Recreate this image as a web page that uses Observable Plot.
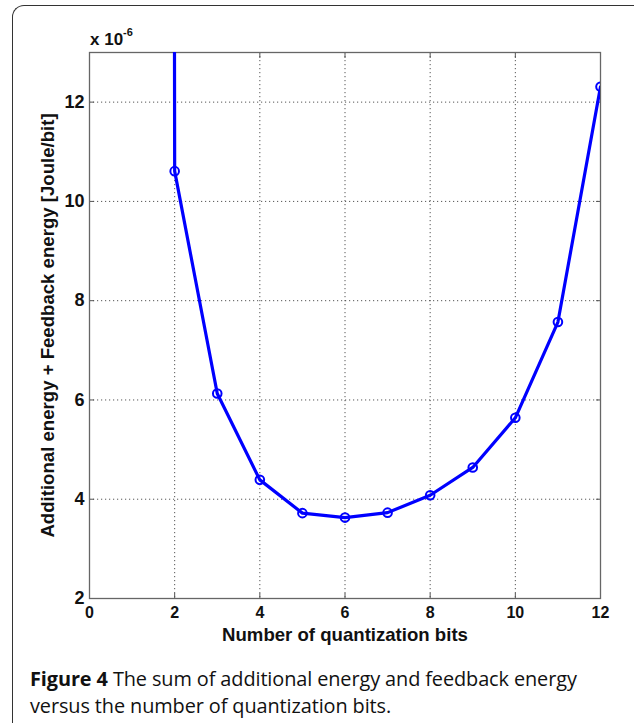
<!DOCTYPE html>
<html><head><meta charset="utf-8">
<script src="https://cdn.jsdelivr.net/npm/d3@7"></script>
<script src="https://cdn.jsdelivr.net/npm/@observablehq/plot@0.6"></script>
<style>
body{margin:0;background:#fff;}
#wrap{position:relative;width:634px;height:723px;overflow:hidden;background:#fff;}
#border{position:absolute;left:12px;top:5px;width:700px;height:800px;border-top:1.5px solid #333;border-left:1.5px solid #333;border-top-left-radius:12px;}
#chart{position:absolute;left:0;top:0;}
#chart svg text{font-family:"Liberation Sans",Arial,sans-serif;font-weight:bold;fill:#111;}
#chart g[aria-label="x-axis tick label"] text{font-size:16px;}
#chart g[aria-label="y-axis tick label"] text{font-size:18px;}
#chart g[aria-label="x-axis label"] text{font-size:18.6px;}
#chart g[aria-label="y-axis label"] text{font-size:18.6px;}
#exp{position:absolute;left:90px;top:28px;font:bold 17px "Liberation Sans",Arial,sans-serif;color:#111;}
#exp sup{font-size:11px;position:relative;top:-2px;}
#caption{position:absolute;left:30px;top:665px;font:19.9px "Open Sans",sans-serif;line-height:27px;color:#111;letter-spacing:-0.1px;}
</style></head>
<body>
<div id="wrap">
<div id="border"></div>
<div id="chart"></div>
<div id="exp">x 10<sup>-6</sup></div>
<div id="caption"><b>Figure 4</b> The sum of additional energy and feedback energy<br>versus the number of quantization bits.</div>
</div>
<script>
const bits = [1, 2, 3, 4, 5, 6, 7, 8, 9, 10, 11, 12];
const energy = [600, 10.61, 6.13, 4.39, 3.72, 3.63, 3.73, 4.08, 4.64, 5.64, 7.57, 12.31];
const xTicks = [0, 2, 4, 6, 8, 10, 12];
const yTicks = [2, 4, 6, 8, 10, 12];
const xLabel = "Number of quantization bits";
const yLabel = "Additional energy + Feedback energy [Joule/bit]";

const data = bits.map((b, i) => ({bits: b, energy: energy[i]}));
const blue = "#0000ff";
const fmt = d => String(d);

const chart = Plot.plot({
  width: 634,
  height: 650,
  marginLeft: 89,
  marginRight: 34,
  marginTop: 52,
  marginBottom: 52,
  style: {fontFamily: "'Liberation Sans', Arial, sans-serif", fontSize: "16px", fontWeight: "bold", color: "#111", background: "transparent"},
  x: {domain: [0, 12], ticks: xTicks},
  y: {domain: [2, 13], ticks: yTicks},
  marks: [
    Plot.gridX(xTicks, {stroke: "#444", strokeOpacity: 0.9, strokeDasharray: "1.2,2.8"}),
    Plot.gridY(yTicks, {stroke: "#444", strokeOpacity: 0.9, strokeDasharray: "1.2,2.8"}),
    Plot.axisX(xTicks, {anchor: "bottom", tickSize: 0, tickPadding: 8, tickFormat: fmt, label: xLabel, labelAnchor: "center", labelArrow: "none", labelOffset: 42}),
    Plot.axisY(yTicks, {anchor: "left", tickSize: 0, tickPadding: 5, tickFormat: fmt, label: yLabel, labelAnchor: "center", labelArrow: "none", labelOffset: 49}),
    Plot.axisX(xTicks, {anchor: "bottom", tickSize: -5, text: null, label: null, stroke: "#555"}),
    Plot.axisX(xTicks, {anchor: "top", tickSize: -5, text: null, label: null, stroke: "#555"}),
    Plot.axisY(yTicks, {anchor: "left", tickSize: -5, text: null, label: null, stroke: "#555"}),
    Plot.axisY(yTicks, {anchor: "right", tickSize: -5, text: null, label: null, stroke: "#555"}),
    Plot.frame({stroke: "#666", strokeWidth: 1.3}),
    Plot.line(data, {x: "bits", y: "energy", stroke: blue, strokeWidth: 3.2, clip: true}),
    Plot.dot(data, {x: "bits", y: "energy", r: 4.3, stroke: blue, strokeWidth: 2, fill: "none", clip: true})
  ]
});
document.getElementById("chart").appendChild(chart);
</script>
</body></html>
